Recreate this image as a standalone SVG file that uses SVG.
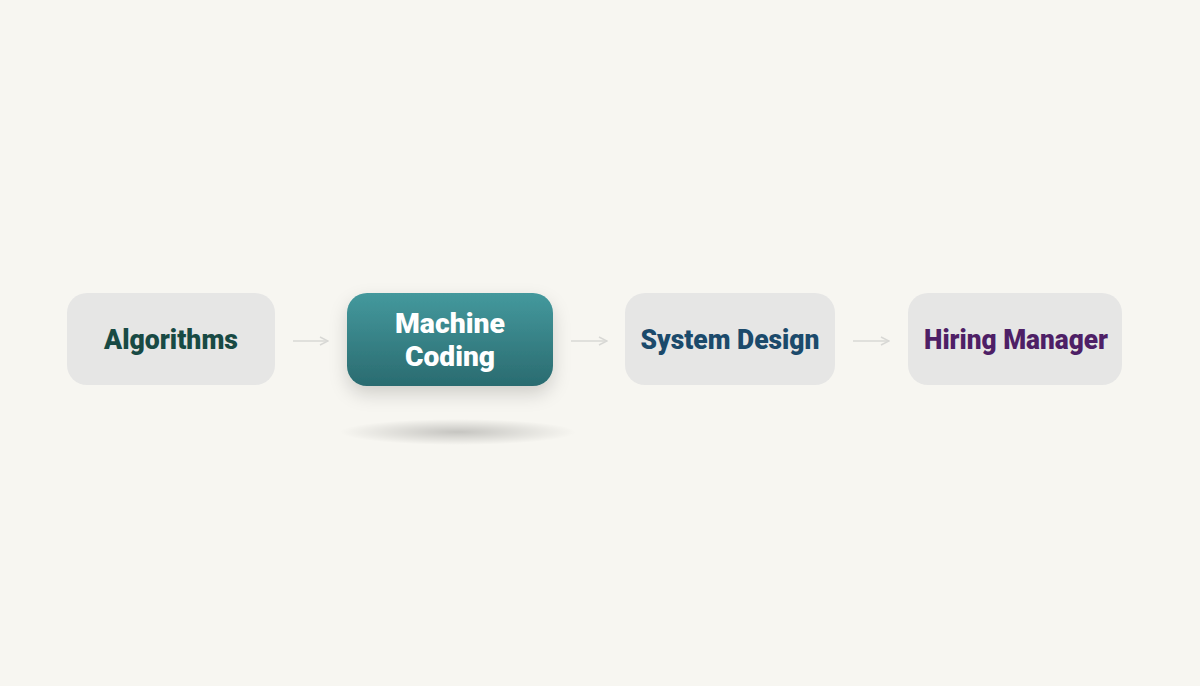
<svg xmlns="http://www.w3.org/2000/svg" width="1200" height="686" viewBox="0 0 1200 686">
<defs>
<linearGradient id="teal" x1="0" y1="0" x2="0" y2="1">
<stop offset="0" stop-color="#44999d"/>
<stop offset="1" stop-color="#2a6b70"/>
</linearGradient>
<radialGradient id="sh" cx="0.5" cy="0.5" r="0.5">
<stop offset="0" stop-color="#000" stop-opacity="0.2"/>
<stop offset="1" stop-color="#000" stop-opacity="0"/>
</radialGradient>
<filter id="ds" x="-20%" y="-30%" width="140%" height="180%">
<feDropShadow dx="0" dy="8" stdDeviation="9" flood-color="#000" flood-opacity="0.16"/>
</filter>
<marker id="ah" viewBox="0 0 10 10" refX="9" refY="5" markerWidth="10" markerHeight="10" markerUnits="userSpaceOnUse" orient="auto">
<path d="M1,1 L9,5 L1,9" fill="none" stroke="#d8d8d5" stroke-width="1.5"/>
</marker>
</defs>
<style>
.box{fill:#e6e6e5;}
.lbl{font-family:Roboto,"Liberation Sans",sans-serif;font-weight:900;font-size:28px;text-anchor:middle;dominant-baseline:central;}
.conn{stroke:#d8d8d5;stroke-width:1.6;fill:none;marker-end:url(#ah);}
</style>
<rect width="1200" height="686" fill="#f7f6f1"/>
<g id="connectors">
<line class="conn" x1="293" y1="341" x2="328" y2="341"/>
<line class="conn" x1="571" y1="341" x2="607" y2="341"/>
<line class="conn" x1="853" y1="341" x2="889" y2="341"/>
</g>
<g id="algorithms">
<rect class="box" x="67" y="293" width="208" height="92" rx="20"/>
<text class="lbl" x="171" y="339" fill="#184a44" textLength="134" lengthAdjust="spacingAndGlyphs">Algorithms</text>
</g>
<g id="machine-coding">
<ellipse cx="458" cy="432" rx="118" ry="13" fill="url(#sh)"/>
<rect x="347" y="293" width="206" height="93" rx="20" fill="url(#teal)" filter="url(#ds)"/>
<text class="lbl" x="450" y="323" fill="#ffffff" textLength="110" lengthAdjust="spacingAndGlyphs">Machine</text>
<text class="lbl" x="450" y="356" fill="#ffffff" textLength="90" lengthAdjust="spacingAndGlyphs">Coding</text>
</g>
<g id="system-design">
<rect class="box" x="625" y="293" width="210" height="92" rx="20"/>
<text class="lbl" x="730" y="339" fill="#1b4a6b" textLength="179" lengthAdjust="spacingAndGlyphs">System Design</text>
</g>
<g id="hiring-manager">
<rect class="box" x="908" y="293" width="214" height="92" rx="20"/>
<text class="lbl" x="1016" y="339" fill="#4e1f66" textLength="184" lengthAdjust="spacingAndGlyphs">Hiring Manager</text>
</g>
</svg>
